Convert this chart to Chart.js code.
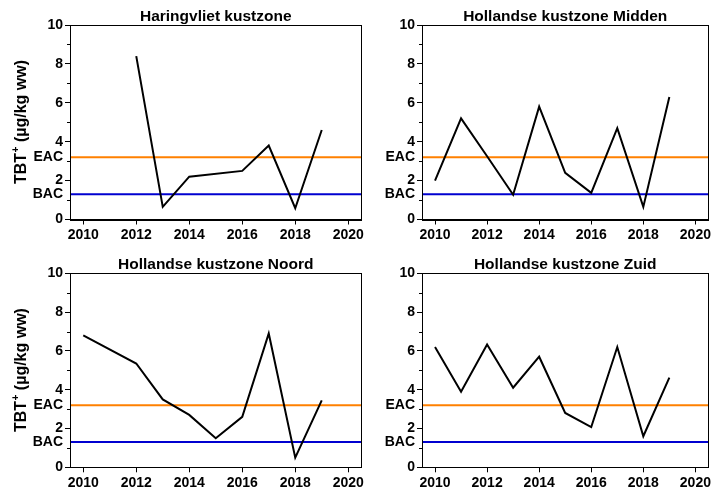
<!DOCTYPE html>
<html lang="nl">
<head>
    <meta charset="UTF-8">
    <title>TBT kustzones</title>
    <style>
        body {
            margin: 0;
            background: #fff;
            width: 713px;
            height: 492px;
            position: relative;
            overflow: hidden;
        }
        .panel {
            position: absolute;
        }
    </style>
</head>
<body>
    <div class="panel" style="left:0;top:0;width:366px;height:246px"><canvas id="c1"></canvas></div>
    <div class="panel" style="left:366px;top:0;width:347px;height:246px"><canvas id="c2"></canvas></div>
    <div class="panel" style="left:0;top:246px;width:366px;height:246px"><canvas id="c3"></canvas></div>
    <div class="panel" style="left:366px;top:246px;width:347px;height:246px"><canvas id="c4"></canvas></div>

    <script src="https://cdn.jsdelivr.net/npm/chart.js"></script>
    <script>
        // data (TBT+ in ug/kg ww)
        const years = [2010, 2011, 2012, 2013, 2014, 2015, 2016, 2017, 2018, 2019];
        const haringvliet = [null, null, 8.4, 0.65, 2.2, null, 2.5, 3.8, 0.58, 4.6];
        const midden = [2.0, 5.2, 3.25, 1.27, 5.8, 2.4, 1.37, 4.7, 0.65, 6.3];
        const noord = [6.8, null, 5.35, 3.5, 2.7, 1.5, 2.6, 6.9, 0.5, 3.45];
        const zuid = [6.2, 3.9, 6.33, 4.1, 5.7, 2.8, 2.07, 6.2, 1.6, 4.62];
        const EAC = 3.2;
        const BAC = 1.3;
        const xTicks = [2010, 2012, 2014, 2016, 2018, 2020];
        const yTicks = [0, 2, 4, 6, 8, 10];
        const yMinor = [1, 3, 5, 7, 9];
        const xMin = 2009.5, xMax = 2020.5;

        const FONT = "'Liberation Sans', Arial, sans-serif";

        // box, minor ticks, panel title and y axis title
        const decor = {
            id: 'decor',
            afterDraw(chart, args, opts) {
                const ctx = chart.ctx;
                const a = chart.chartArea;
                const y = chart.scales.y;
                ctx.save();
                ctx.strokeStyle = '#000';
                ctx.lineWidth = 1;
                ctx.strokeRect(Math.round(a.left) + 0.5, Math.round(a.top) + 0.5,
                    Math.round(a.right - a.left), Math.round(a.bottom - a.top));
                // minor y ticks
                ctx.beginPath();
                yMinor.forEach(v => {
                    const py = Math.round(y.getPixelForValue(v)) + 0.5;
                    ctx.moveTo(a.left - 3, py);
                    ctx.lineTo(a.left, py);
                });
                ctx.stroke();
                // panel title
                ctx.fillStyle = '#000';
                ctx.font = 'bold 15.5px ' + FONT;
                ctx.textAlign = 'center';
                ctx.textBaseline = 'alphabetic';
                ctx.fillText(opts.title, (a.left + a.right) / 2, a.top - 4.5);
                // y axis title with superscript
                if (opts.yTitle) {
                    const cy = (a.top + a.bottom) / 2;
                    ctx.translate(20, cy);
                    ctx.rotate(-Math.PI / 2);
                    ctx.textAlign = 'left';
                    const big = 'bold 16px ' + FONT;
                    const small = 'bold 10px ' + FONT;
                    ctx.font = big;
                    const w1 = ctx.measureText('TBT').width;
                    const w3 = ctx.measureText(' (µg/kg ww)').width;
                    ctx.font = small;
                    const w2 = ctx.measureText('+').width;
                    let x0 = -(w1 + w2 + w3) / 2;
                    const base = 6;
                    ctx.font = big;
                    ctx.fillText('TBT', x0, base);
                    ctx.font = small;
                    ctx.fillText('+', x0 + w1 + 0.5, base - 7);
                    ctx.font = big;
                    ctx.fillText(' (µg/kg ww)', x0 + w1 + w2 + 0.5, base);
                }
                ctx.restore();
            }
        };

        function makePanel(id, title, values, yTitle, yWidth, padTop, xHeight, padRight) {
            const points = years.map((yr, i) => ({ x: yr, y: values[i] }));
            new Chart(document.getElementById(id), {
                type: 'line',
                data: {
                    datasets: [
                        {
                            data: points,
                            borderColor: '#000',
                            borderWidth: 2,
                            pointRadius: 0,
                            spanGaps: true,
                            tension: 0
                        },
                        {
                            data: [{ x: xMin, y: EAC }, { x: xMax, y: EAC }],
                            borderColor: '#ff8000',
                            borderWidth: 2,
                            pointRadius: 0
                        },
                        {
                            data: [{ x: xMin, y: BAC }, { x: xMax, y: BAC }],
                            borderColor: '#0000d0',
                            borderWidth: 2,
                            pointRadius: 0
                        }
                    ]
                },
                options: {
                    responsive: true,
                    maintainAspectRatio: false,
                    animation: false,
                    layout: { padding: { top: padTop, right: padRight, left: 0, bottom: 0 } },
                    plugins: {
                        legend: { display: false },
                        tooltip: { enabled: false },
                        decor: { title: title, yTitle: yTitle }
                    },
                    scales: {
                        x: {
                            type: 'linear',
                            min: xMin,
                            max: xMax,
                            afterBuildTicks: s => { s.ticks = xTicks.map(v => ({ value: v })); },
                            afterFit: s => { s.height = xHeight; },
                            ticks: {
                                color: '#000',
                                font: { family: FONT, size: 14, weight: 'bold' },
                                padding: 2,
                                maxRotation: 0,
                                autoSkip: false,
                                callback: v => String(v)
                            },
                            grid: { drawOnChartArea: false, tickLength: 5, color: '#000' },
                            border: { color: '#000' }
                        },
                        y: {
                            min: 0,
                            max: 10,
                            afterBuildTicks: s => {
                                const t = yTicks.concat([EAC, BAC]).sort((p, q) => p - q);
                                s.ticks = t.map(v => ({ value: v }));
                            },
                            afterFit: s => { s.width = yWidth; },
                            ticks: {
                                color: '#000',
                                font: { family: FONT, size: 14, weight: 'bold' },
                                padding: 2,
                                autoSkip: false,
                                callback: v => v === EAC ? 'EAC' : (v === BAC ? 'BAC' : String(v))
                            },
                            grid: {
                                drawOnChartArea: false,
                                tickLength: 5,
                                color: '#000',
                                tickColor: c => (c.tick && (c.tick.value === EAC || c.tick.value === BAC)) ? 'rgba(0,0,0,0)' : '#000'
                            },
                            border: { color: '#000' }
                        }
                    }
                },
                plugins: [decor]
            });
        }

        makePanel('c1', 'Haringvliet kustzone', haringvliet, true, 70, 25, 26.5, 4);
        makePanel('c2', 'Hollandse kustzone Midden', midden, false, 56, 25, 26.5, 1);
        makePanel('c3', 'Hollandse kustzone Noord', noord, true, 70, 27.3, 24.7, 4);
        makePanel('c4', 'Hollandse kustzone Zuid', zuid, false, 56, 27.3, 24.7, 1);
    </script>
</body>
</html>
